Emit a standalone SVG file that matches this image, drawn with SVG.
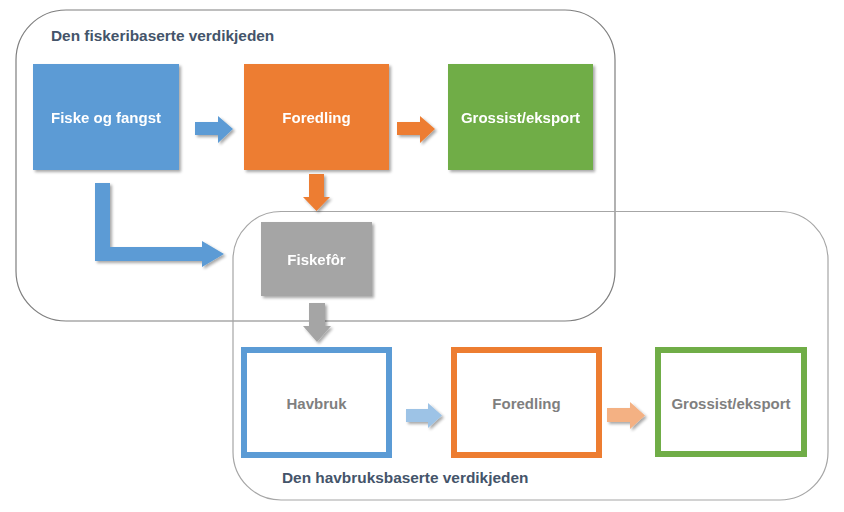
<svg xmlns="http://www.w3.org/2000/svg" width="844" height="512" viewBox="0 0 844 512">
<style>
.frame{fill:none;stroke-width:1.2}
.title{font-family:"Liberation Sans",Arial,sans-serif;font-weight:bold;font-size:15.4px;fill:#44546a}
.lbl{font-family:"Liberation Sans",Arial,sans-serif;font-weight:bold;font-size:15px;text-anchor:middle}
.w{fill:#ffffff}
.g{fill:#7f7f7f}
.ob{fill:#ffffff;stroke-width:6}
</style>
<defs>
<filter id="sh" x="-10%" y="-10%" width="130%" height="130%">
<feGaussianBlur in="SourceAlpha" stdDeviation="1.5"/>
<feOffset dx="2" dy="2" result="b"/>
<feComponentTransfer><feFuncA type="linear" slope="0.35"/></feComponentTransfer>
<feMerge><feMergeNode/><feMergeNode in="SourceGraphic"/></feMerge>
</filter>
</defs>
<rect width="844" height="512" fill="#ffffff"/>
<g id="group-fiskeri">
<rect class="frame" x="16" y="10" width="599" height="311" rx="50" stroke="#7f7f7f"/>
<text class="title" x="51" y="41">Den fiskeribaserte verdikjeden</text>
</g>
<g id="group-havbruk">
<rect class="frame" x="233" y="211.5" width="595" height="288.5" rx="48" stroke="#a6a6a6"/>
<text class="title" x="282" y="483">Den havbruksbaserte verdikjeden</text>
</g>
<g id="connectors" filter="url(#sh)">
<path d="M195,122 H218 V116 L233,129 L218,143 V135 H195 Z" fill="#5b9bd5"/>
<path d="M397,122 H420 V116 L435,129 L420,143 V135 H397 Z" fill="#ed7d31"/>
<path d="M309,174 H324 V197 H330 L316.5,211 L303,197 H309 Z" fill="#ed7d31"/>
<path d="M95,183 H110 V247 H202 V241 L224,254 L202,267 V261 H95 Z" fill="#5b9bd5"/>
<path d="M309,303 H325 V326 H331 L317,342 L303,326 H309 Z" fill="#a5a5a5"/>
<path d="M406,409 H428 V403 L442,415.5 L428,428 V422 H406 Z" fill="#9dc3e6"/>
<path d="M607,408 H630 V402 L645,415.5 L630,429 V422 H607 Z" fill="#f4b183"/>
</g>
<g id="node-fiske" filter="url(#sh)">
<rect x="33" y="64" width="146" height="106" fill="#5b9bd5"/>
<text class="lbl w" x="106" y="123">Fiske og fangst</text>
</g>
<g id="node-foredling1" filter="url(#sh)">
<rect x="244" y="64" width="145" height="106" fill="#ed7d31"/>
<text class="lbl w" x="316.5" y="123">Foredling</text>
</g>
<g id="node-grossist1" filter="url(#sh)">
<rect x="448" y="64" width="145" height="106" fill="#70ad47"/>
<text class="lbl w" x="520.5" y="123">Grossist/eksport</text>
</g>
<g id="node-fiskefor" filter="url(#sh)">
<rect x="261" y="222" width="111" height="74" fill="#a5a5a5"/>
<text class="lbl w" x="316.5" y="265">Fiskefôr</text>
</g>
<g id="node-havbruk">
<rect class="ob" x="244" y="350" width="145" height="105" stroke="#5b9bd5"/>
<text class="lbl g" x="316.5" y="409">Havbruk</text>
</g>
<g id="node-foredling2">
<rect class="ob" x="454" y="350" width="145" height="105" stroke="#ed7d31"/>
<text class="lbl g" x="526.5" y="409">Foredling</text>
</g>
<g id="node-grossist2">
<rect class="ob" x="658" y="350" width="146" height="104" stroke="#70ad47"/>
<text class="lbl g" x="731" y="409">Grossist/eksport</text>
</g>
</svg>
